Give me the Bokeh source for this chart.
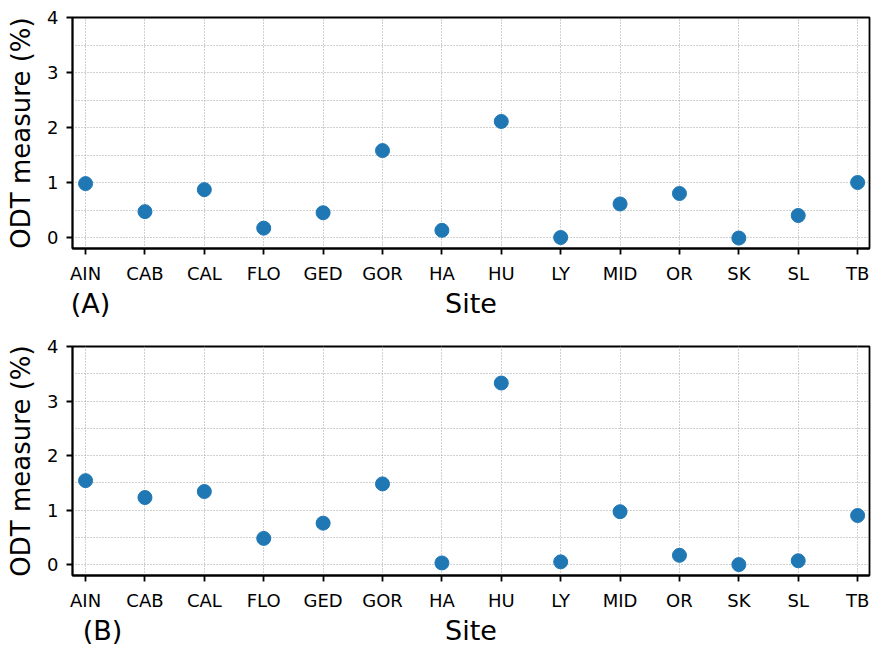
from bokeh.plotting import figure
from bokeh.layouts import column
from bokeh.models import Range1d, FixedTicker, LinearAxis
from bokeh.embed import file_html
from bokeh.resources import INLINE

sites = ["AIN", "CAB", "CAL", "FLO", "GED", "GOR", "HA", "HU", "LY", "MID", "OR", "SK", "SL", "TB"]
odt_a = [0.98, 0.47, 0.87, 0.17, 0.45, 1.58, 0.13, 2.11, 0.00, 0.61, 0.80, -0.01, 0.40, 1.00]
odt_b = [1.54, 1.23, 1.34, 0.48, 0.76, 1.48, 0.03, 3.33, 0.05, 0.97, 0.17, 0.00, 0.07, 0.90]
y_ticks = [0, 1, 2, 3, 4]
y_minor = [0.5, 1.5, 2.5, 3.5]
panel_labels = ["(A)", "(B)"]
x_title = "Site"
y_title = "ODT measure (%)"

FONT = "DejaVu Sans"
GRID = "#a0a0a0"
X_START, X_END = -0.22, 13.2


def make_panel(values, tag, height, b_top, b_bottom, tag_pos):
    x_idx = list(range(len(sites)))
    p = figure(width=872, height=height, output_backend="svg", toolbar_location=None,
               x_range=Range1d(X_START, X_END), y_range=Range1d(-0.2, 4.0),
               min_border_left=72, min_border_right=3, min_border_top=b_top,
               min_border_bottom=b_bottom)
    p.scatter(x_idx, values, size=14, color="#1f77b4", alpha=1.0)

    p.xaxis.ticker = FixedTicker(ticks=x_idx)
    p.xaxis.major_label_overrides = {i: s for i, s in enumerate(sites)}
    p.yaxis.ticker = FixedTicker(ticks=y_ticks, minor_ticks=y_minor)

    for ax in (p.xaxis[0], p.yaxis[0]):
        ax.axis_line_width = 1.8
        ax.axis_line_color = "black"
        ax.major_tick_line_width = 1.8
        ax.major_tick_line_color = "black"
        ax.major_tick_out = 6
        ax.major_tick_in = 0
        ax.minor_tick_line_color = None
        ax.major_label_text_font = FONT
        ax.major_label_text_font_size = "18px"
        ax.major_label_text_color = "black"
        ax.axis_label_text_font = FONT
        ax.axis_label_text_font_style = "normal"
        ax.axis_label_text_color = "black"
        ax.axis_label_text_font_size = "26px"
        ax.major_label_standoff = 8

    p.yaxis.axis_label = y_title
    p.yaxis.axis_label_standoff = 8

    # second row below the tick labels: panel tag and the x-axis title
    site_pos = (X_START + X_END) / 2
    row = LinearAxis(ticker=FixedTicker(ticks=[tag_pos, site_pos]),
                     major_label_overrides={tag_pos: tag, site_pos: x_title},
                     axis_line_color=None, major_tick_line_color=None,
                     minor_tick_line_color=None, major_tick_out=0, major_tick_in=0,
                     major_label_standoff=1, major_label_text_font=FONT,
                     major_label_text_font_size="27px", major_label_text_color="black")
    p.add_layout(row, "below")

    p.xgrid.grid_line_color = GRID
    p.xgrid.grid_line_dash = "1 2"
    p.xgrid.grid_line_width = 1
    p.ygrid.grid_line_color = GRID
    p.ygrid.grid_line_dash = "1 2"
    p.ygrid.grid_line_width = 1
    p.ygrid.minor_grid_line_color = GRID
    p.ygrid.minor_grid_line_dash = "1 2"
    p.ygrid.minor_grid_line_width = 1

    p.outline_line_color = "black"
    p.outline_line_width = 1.8
    p.outline_line_alpha = 1.0
    return p


pa = make_panel(odt_a, panel_labels[0], 330, 17, 82, 0.083)
pb = make_panel(odt_b, panel_labels[1], 318, 16, 71, 0.285)
layout = column(pa, pb, spacing=0)

open("out.html", "w").write(file_html(layout, INLINE))
